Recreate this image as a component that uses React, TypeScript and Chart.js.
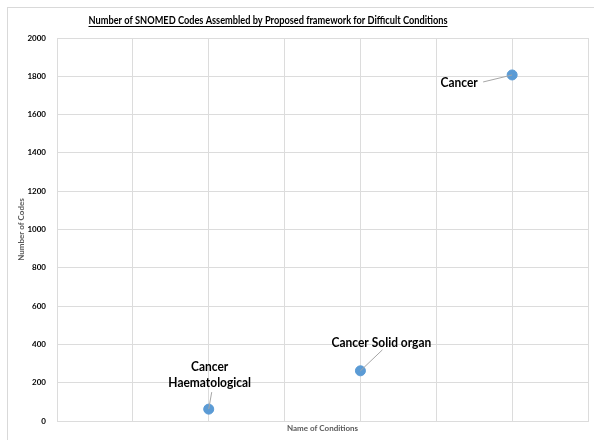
import React, { useEffect, useRef } from "react";
import { Chart, registerables } from "chart.js";

Chart.register(...registerables);

const conditions = ["Cancer Haematological", "Cancer Solid organ", "Cancer"];
const xPositions = [2, 4, 6];
const codeCounts = [62, 262, 1807];
const labelLines = [["Cancer", "Haematological"], ["Cancer Solid organ"], ["Cancer"]];
const yTicks = [0, 200, 400, 600, 800, 1000, 1200, 1400, 1600, 1800, 2000];

const FONT = "Lato, 'Open Sans', sans-serif";

function squeezeText(ctx: any, text: string, x: number, y: number, sx: number) {
  ctx.save();
  ctx.translate(x, y);
  ctx.scale(sx, 1);
  ctx.fillText(text, 0, 0);
  ctx.restore();
}

const decor = {
  id: "decor",
  beforeDraw(chart: any) {
    const ctx = chart.ctx;
    ctx.save();
    ctx.fillStyle = "#ffffff";
    ctx.fillRect(0, 0, chart.width, chart.height);
    ctx.strokeStyle = "#d9d9d9";
    ctx.lineWidth = 1;
    ctx.strokeRect(7.5, 7.5, 700, 700);
    // title
    const t = "Number of SNOMED Codes Assembled by Proposed framework for Difficult Conditions";
    ctx.font = "bold 11.5px " + FONT;
    ctx.fillStyle = "#000";
    ctx.textAlign = "center";
    ctx.textBaseline = "alphabetic";
    const cx = 268;
    const target = 359;
    const w = ctx.measureText(t).width;
    const sx = target / w;
    squeezeText(ctx, t, cx, 24, sx);
    ctx.fillRect(cx - target / 2, 26, target, 1);
    ctx.restore();
  },
  afterDatasetsDraw(chart: any) {
    const ctx = chart.ctx;
    const meta = chart.getDatasetMeta(0);
    const offs = [
      { dx: 1, dy: -26, lx: 3, ly: -17 },
      { dx: 21, dy: -28, lx: 22, ly: -21 },
      { dx: -53, dy: 8, lx: -29, ly: 7 },
    ];
    ctx.save();
    meta.data.forEach((pt: any, i: number) => {
      const o = offs[i];
      ctx.strokeStyle = "#a6a6a6";
      ctx.lineWidth = 1;
      ctx.beginPath();
      ctx.moveTo(pt.x, pt.y);
      ctx.lineTo(pt.x + o.lx, pt.y + o.ly);
      ctx.stroke();
      ctx.font = "bold 13px " + FONT;
      ctx.fillStyle = "#000";
      ctx.textAlign = "center";
      ctx.textBaseline = "middle";
      const lines = labelLines[i];
      lines.forEach((ln, j) => {
        const y = pt.y + o.dy - (lines.length - 1 - j) * 16;
        squeezeText(ctx, ln, pt.x + o.dx, y, 0.92);
      });
    });
    ctx.restore();
  },
};

export default function App() {
  const ref = useRef<HTMLCanvasElement>(null);
  useEffect(() => {
    const chart = new Chart(ref.current!, {
      type: "scatter",
      data: {
        datasets: [
          {
            label: "Number of Codes",
            data: xPositions.map((x, i) => ({ x, y: codeCounts[i] })),
            backgroundColor: "#5B9BD5",
            borderColor: "#5B9BD5",
            pointRadius: 5,
          },
        ],
      },
      options: {
        animation: false,
        responsive: false,
        layout: { padding: { left: 0, right: 3, top: 38, bottom: 0 } },
        plugins: { legend: { display: false }, tooltip: { enabled: false } },
        scales: {
          x: {
            type: "linear",
            min: 0,
            max: 7,
            ticks: { display: false, stepSize: 1 },
            grid: { color: "#dcdcdc", drawTicks: false },
            border: { color: "#dcdcdc" },
            title: {
              display: true,
              text: "Name of Conditions",
              color: "#595959",
              font: { family: FONT, size: 8, weight: "bold" },
              padding: { top: 0, bottom: 7 },
            },
            afterFit(scale: any) {
              scale.height = 19;
            },
          },
          y: {
            min: 0,
            max: 2000,
            afterBuildTicks(scale: any) {
              scale.ticks = yTicks.map((v) => ({ value: v }));
            },
            ticks: {
              color: "#000",
              font: { family: FONT, size: 8, weight: "bold" },
              padding: 11,
              callback: (v: any) => String(v),
            },
            grid: { color: "#dcdcdc", drawTicks: false },
            border: { color: "#dcdcdc" },
            title: {
              display: true,
              text: "Number of Codes",
              color: "#595959",
              font: { family: FONT, size: 8, weight: "bold" },
              padding: { top: 17, bottom: 0 },
            },
            afterFit(scale: any) {
              scale.width = 57;
            },
          },
        },
      },
      plugins: [decor],
    } as any);
    return () => chart.destroy();
  }, []);
  return (
    <canvas
      ref={ref}
      width={594}
      height={440}
      style={{ position: "fixed", left: 0, top: 0, width: 594, height: 440 }}
    />
  );
}
